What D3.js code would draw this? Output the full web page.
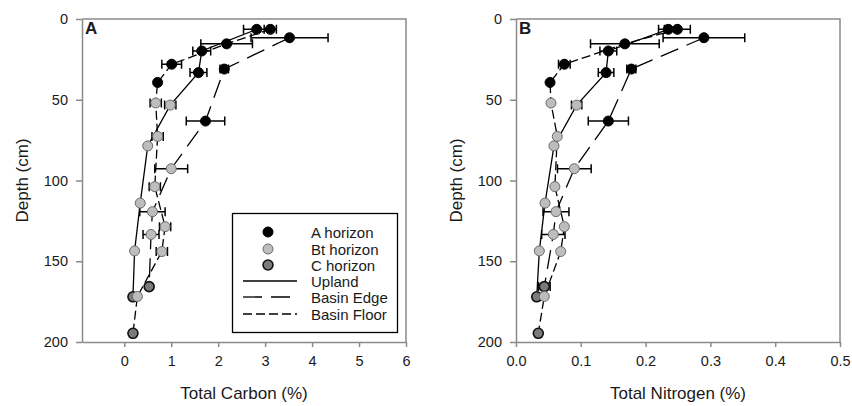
<!DOCTYPE html>
<html><head><meta charset="utf-8">
<script src="https://cdn.jsdelivr.net/npm/d3@7"></script>
<style>body{margin:0;background:#fff} text{font-family:Arial,"Liberation Sans",sans-serif}</style>
</head><body><svg id="c" width="852" height="406"></svg>
<script>
// ---- data ----
const depthTicks = [0, 50, 100, 150, 200];
const carbonTicks = [0, 1, 2, 3, 4, 5, 6];
const nitrogenTicks = [0, 0.1, 0.2, 0.3, 0.4, 0.5];
const horizonNames = ["A horizon", "Bt horizon", "C horizon"];
const positionNames = ["Upland", "Basin Edge", "Basin Floor"];

// Upland (solid)
const uplandDepth    = [6.4, 19.8, 33.2, 53.3, 78.6, 114, 143.6, 172];
const uplandHorizon  = ["A", "A", "A", "Bt", "Bt", "Bt", "Bt", "C"];
const uplandCarbon   = [2.82, 1.65, 1.58, 0.98, 0.50, 0.34, 0.22, 0.185];
const uplandCarbonSE = [0.28, 0.19, 0.18, 0.12, 0, 0, 0, 0];
const uplandNitrogen = [0.235, 0.1425, 0.139, 0.0936, 0.0586, 0.0448, 0.036, 0.032];
const uplandNitrogenSE = [0.015, 0.013, 0.012, 0.008, 0, 0, 0, 0];

// Basin Edge (long dash)
const edgeDepth    = [11.6, 31, 63.2, 92.7, 119.3, 133.4, 165.7];
const edgeHorizon  = ["A", "A", "A", "Bt", "Bt", "Bt", "C"];
const edgeCarbon   = [3.52, 2.13, 1.73, 1.0, 0.60, 0.57, 0.53];
const edgeCarbonSE = [0.82, 0.09, 0.41, 0.35, 0.27, 0.17, 0];
const edgeNitrogen = [0.29, 0.178, 0.1425, 0.09, 0.0617, 0.0576, 0.0437];
const edgeNitrogenSE = [0.063, 0.007, 0.031, 0.026, 0.02, 0.018, 0.009];

// Basin Floor (short dash)
const floorDepth    = [6.4, 15.4, 28, 39.3, 52, 72.7, 103.8, 128.6, 144, 171.8, 194.6];
const floorHorizon  = ["A", "A", "A", "A", "Bt", "Bt", "Bt", "Bt", "Bt", "Bt", "C"];
const floorCarbon   = [3.11, 2.18, 1.01, 0.71, 0.67, 0.71, 0.65, 0.87, 0.80, 0.28, 0.185];
const floorCarbonSE = [0.13, 0.55, 0.21, 0, 0.12, 0.12, 0.12, 0.12, 0.12, 0, 0];
const floorNitrogen = [0.249, 0.168, 0.0746, 0.0525, 0.054, 0.0637, 0.060, 0.0746, 0.069, 0.0437, 0.0344];
const floorNitrogenSE = [0.02, 0.053, 0.009, 0, 0, 0, 0, 0, 0, 0, 0];

// ---- build ----
function build(name, dash, depth, hor, c, cse, n, nse) {
  return {name, dash, pts: depth.map((d, i) => ({depth: d, hor: hor[i], c: c[i], cse: cse[i], n: n[i], nse: nse[i]}))};
}
const profiles = [
  build("Upland", null, uplandDepth, uplandHorizon, uplandCarbon, uplandCarbonSE, uplandNitrogen, uplandNitrogenSE),
  build("Basin Edge", "19,9", edgeDepth, edgeHorizon, edgeCarbon, edgeCarbonSE, edgeNitrogen, edgeNitrogenSE),
  build("Basin Floor", "9,4", floorDepth, floorHorizon, floorCarbon, floorCarbonSE, floorNitrogen, floorNitrogenSE)
];
const markerStyle = {
  A:  {fill: "#000", stroke: "#000", sw: 1},
  Bt: {fill: "#bdbdbd", stroke: "#6a6a6a", sw: 1},
  C:  {fill: "#7b7b7b", stroke: "#111", sw: 1.6}
};
const axisColor = "#8a8a8a", textColor = "#1a1a1a";

const svg = d3.select("#c");
const y = d3.scaleLinear().domain([0, 200]).range([19, 342]);

function panel(xScale, key, seKey, ticks, fmt, title, label, left) {
  const g = svg.append("g");
  const x0 = xScale.range()[0], x1 = xScale.range()[1];
  // frame top/right
  g.append("path").attr("d", `M${x0},19H${x1}V342`).attr("fill", "none").attr("stroke", axisColor).attr("stroke-width", 1.5);
  // x axis
  const xa = g.append("g").attr("transform", "translate(0,342)")
    .call(d3.axisBottom(xScale).tickValues(ticks).tickFormat(fmt).tickSize(5).tickSizeOuter(0).tickPadding(9));
  // y axis
  const ya = g.append("g").attr("transform", `translate(${x0},0)`)
    .call(d3.axisLeft(y).tickValues(depthTicks).tickSize(6).tickSizeOuter(0).tickPadding(8));
  [xa, ya].forEach(a => {
    a.selectAll("path,line").attr("stroke", axisColor).attr("stroke-width", 1.5);
    a.selectAll("text").attr("fill", textColor).style("font-size", "14.5px").style("font-family", "Arial, 'Liberation Sans', sans-serif");
  });
  g.append("text").attr("x", (x0 + x1) / 2).attr("y", 399).attr("text-anchor", "middle")
    .attr("fill", textColor).style("font-size", "17px").text(title);
  g.append("text").attr("transform", `translate(${x0 - 60},${y(100)}) rotate(-90)`).attr("text-anchor", "middle")
    .attr("dominant-baseline", "central").attr("fill", textColor).style("font-size", "17px").text("Depth (cm)");
  g.append("text").attr("x", x0 + 3).attr("y", 34).attr("font-weight", "bold").attr("fill", textColor)
    .style("font-size", "17px").text(label);

  const line = d3.line().x(d => xScale(d[key])).y(d => y(d.depth));
  profiles.forEach(p => {
    g.append("path").datum(p.pts).attr("d", line).attr("fill", "none").attr("stroke", "#000")
      .attr("stroke-width", 1.3).attr("stroke-dasharray", p.dash);
  });
  profiles.forEach(p => {
    p.pts.filter(d => d[seKey] > 0).forEach(d => {
      const yy = y(d.depth), xl = xScale(d[key] - d[seKey]), xr = xScale(d[key] + d[seKey]);
      g.append("path").attr("d", `M${xl},${yy}H${xr}M${xl},${yy - 4.5}V${yy + 4.5}M${xr},${yy - 4.5}V${yy + 4.5}`)
        .attr("stroke", "#000").attr("stroke-width", 1.5).attr("fill", "none");
    });
  });
  profiles.forEach(p => {
    g.selectAll(null).data(p.pts).join("circle")
      .attr("cx", d => xScale(d[key])).attr("cy", d => y(d.depth)).attr("r", 5)
      .attr("fill", d => markerStyle[d.hor].fill).attr("stroke", d => markerStyle[d.hor].stroke)
      .attr("stroke-width", d => markerStyle[d.hor].sw);
  });
}

const xC = d3.scaleLinear().domain([-0.9, 6]).range([82, 406]);
const xN = d3.scaleLinear().domain([0, 0.5]).range([516, 840]);
panel(xC, "c", "cse", carbonTicks, d3.format("d"), "Total Carbon (%)", "A");
panel(xN, "n", "nse", nitrogenTicks, d3.format(".1f"), "Total Nitrogen (%)", "B");

// legend
const lg = svg.append("g");
lg.append("rect").attr("x", 232.5).attr("y", 213.5).attr("width", 165).attr("height", 119)
  .attr("fill", "#fff").attr("stroke", "#000").attr("stroke-width", 1.3);
const rowY = [232, 249, 265, 281, 297, 314];
["A", "Bt", "C"].forEach((h, i) => {
  const s = markerStyle[h];
  lg.append("circle").attr("cx", 268).attr("cy", rowY[i]).attr("r", 5).attr("fill", s.fill)
    .attr("stroke", s.stroke).attr("stroke-width", s.sw);
  lg.append("text").attr("x", 311).attr("y", rowY[i]).attr("dominant-baseline", "central")
    .attr("fill", textColor).style("font-size", "15px").text(horizonNames[i]);
});
profiles.forEach((p, i) => {
  const yy = rowY[3 + i];
  lg.append("line").attr("x1", 243).attr("x2", 297).attr("y1", yy).attr("y2", yy)
    .attr("stroke", "#000").attr("stroke-width", 1.3).attr("stroke-dasharray", p.dash);
  lg.append("text").attr("x", 311).attr("y", yy).attr("dominant-baseline", "central")
    .attr("fill", textColor).style("font-size", "15px").text(positionNames[i]);
});
</script></body></html>
